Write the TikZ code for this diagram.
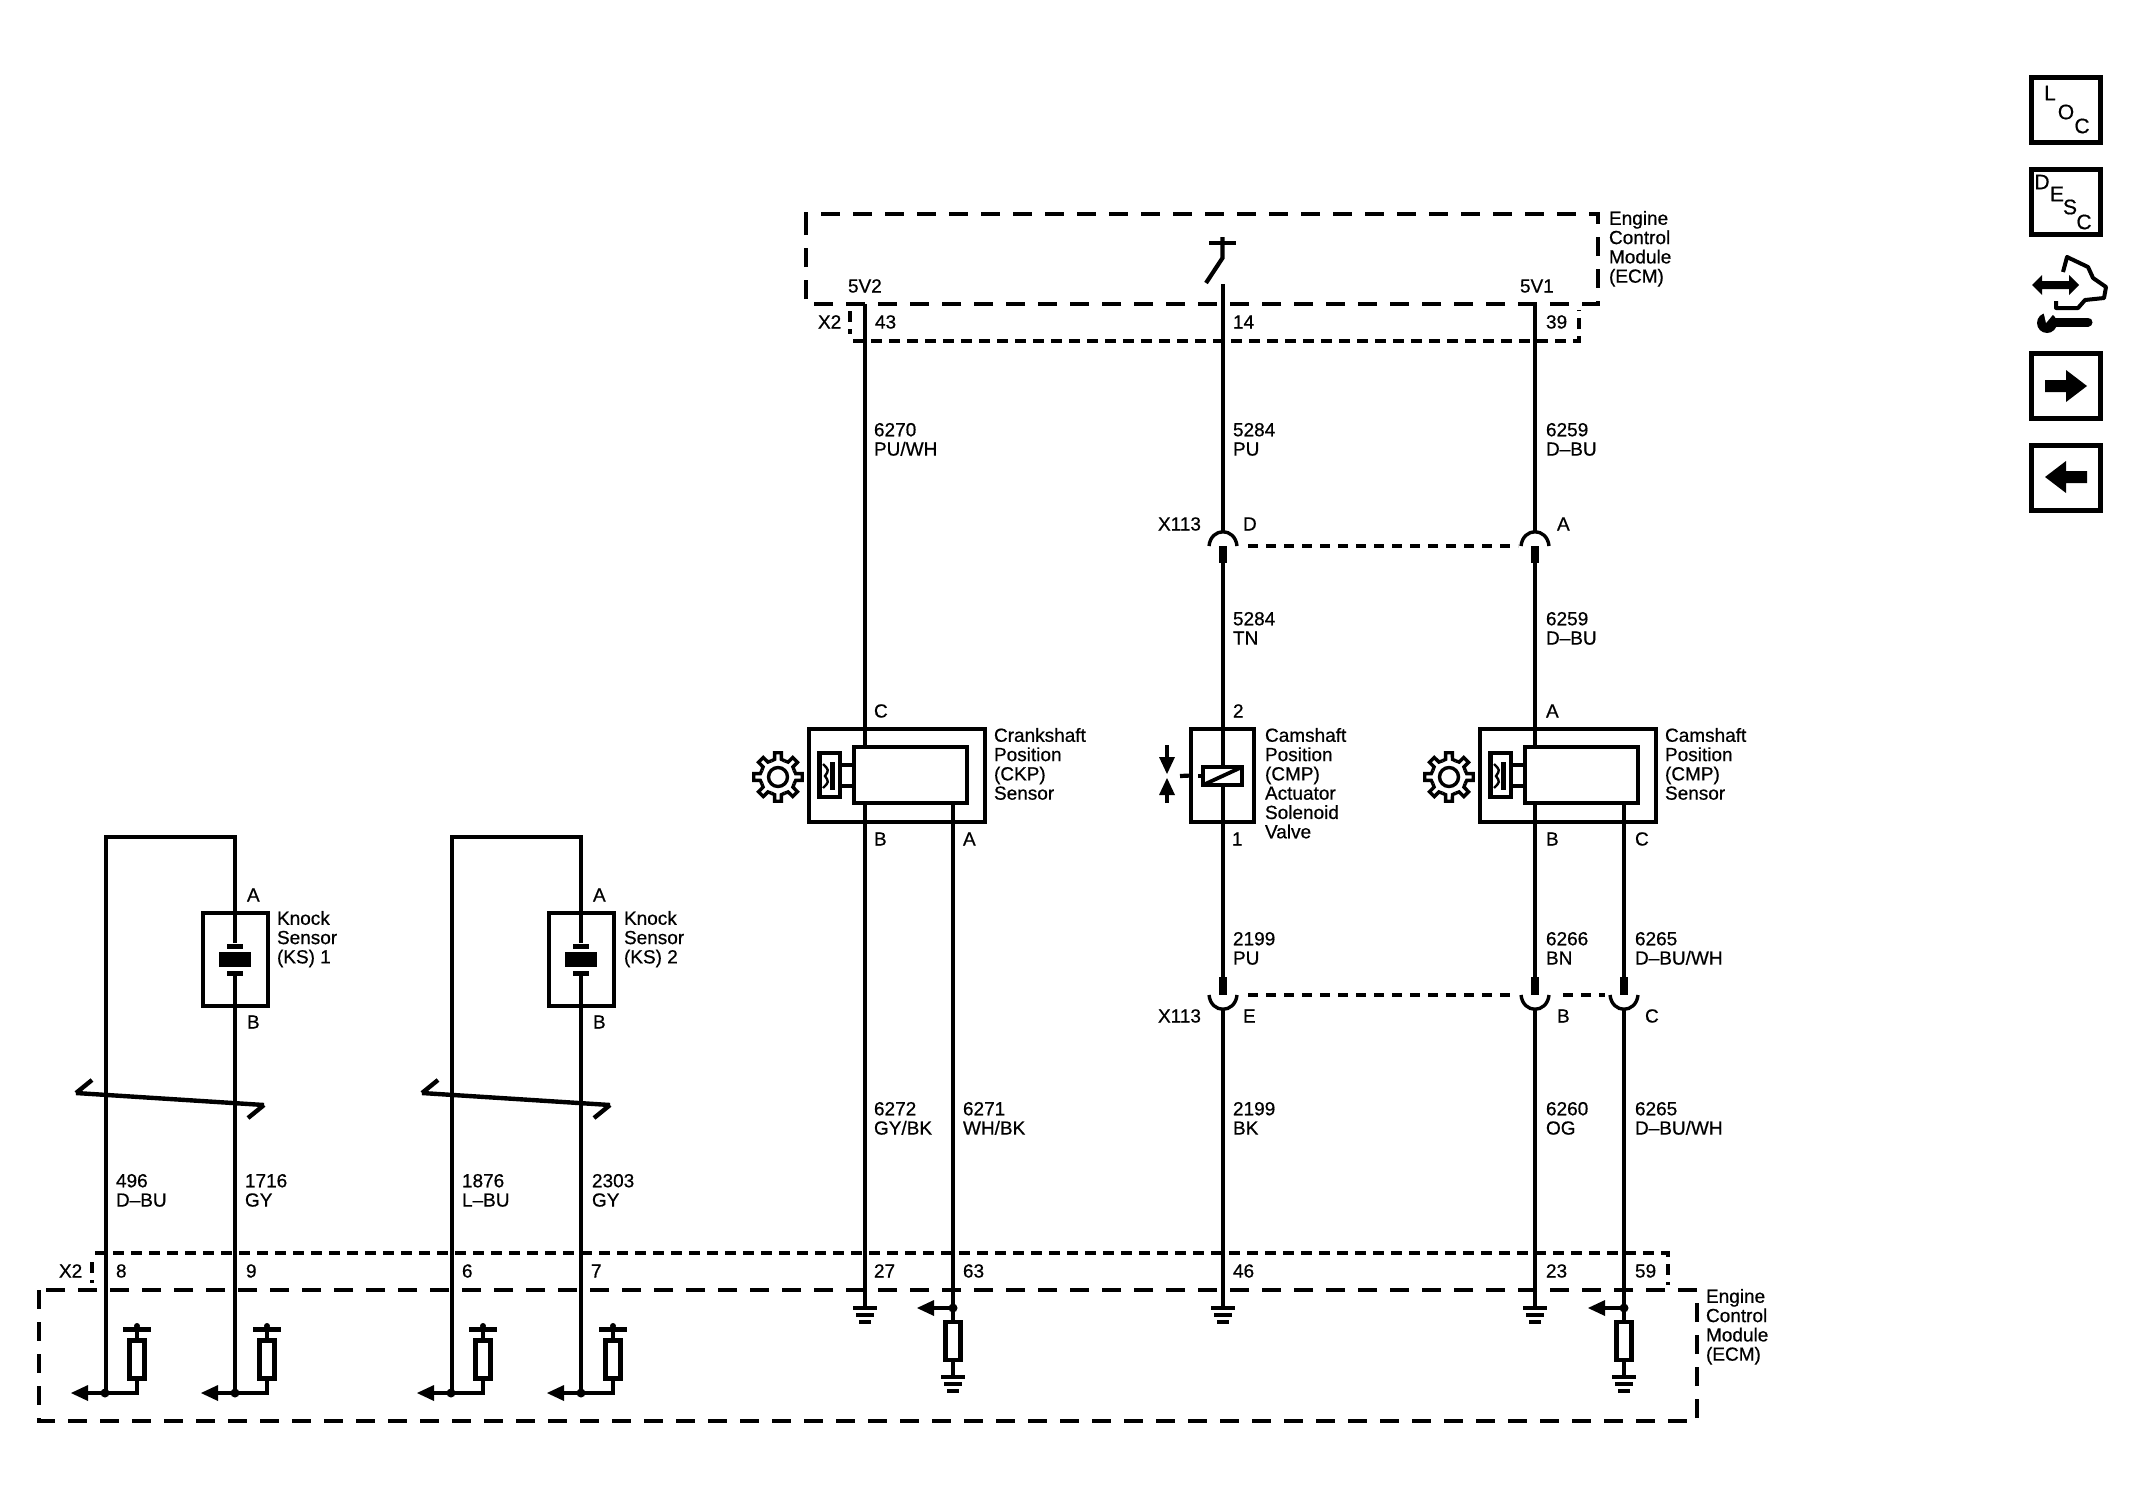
\documentclass[tikz,border=0pt]{standalone}
\usepackage{fontspec}
\setmainfont{Liberation Sans}[RawFeature={embolden=0.6}]
\newcommand{\lbl}[4]{\node[txt] (#1) at (#2,#3-8) {#4};}
\newcommand{\gndsym}[2]{%
  \fill (#1-12,#2-2) rectangle (#1+12,#2+2);
  \fill (#1-9,#2+5) rectangle (#1+9,#2+9);
  \fill (#1-6,#2+12) rectangle (#1+6,#2+16);}
\newcommand{\lefttip}[2]{%
  \fill (#1-36,#2) -- (#1-19,#2-8) -- (#1-19,#2+8) -- cycle;
  \draw[thinwire] (#1-20,#2) -- (#1,#2);
  \fill (#1,#2) circle (4.5);}
\newcommand{\rsym}[3]{\node[res] (#1) at (#2,#3) {};}
\newcommand{\gearsym}[2]{%
  \begin{scope}[shift={(#1,#2)}]
    \foreach \a in {0,45,...,315}{
      \draw[gearline] (\a-22.5:17.5) -- (\a-11:18) -- (\a-8:24.5) -- (\a+8:24.5) -- (\a+11:18) -- (\a+22.5:17.5);
    }
    \draw[gearline] (0,0) circle (9.5);
  \end{scope}}
\newcommand{\cmpsensor}[1]{%
  \begin{scope}[xshift=#1]
    \gearsym{778}{777}
    \fill (830,762) rectangle (835,790);
    \draw[line width=1.2pt] (823,764) .. controls (829,770) .. (825,776) .. controls (829,782) .. (823,788);
    \draw[smallbox] (819.5,753) rectangle (840,797);
    \draw[smallbox] (840,765) -- (854,765) (840,786) -- (854,786);
  \end{scope}}
\newcommand{\icobox}[2]{\node[icon] (#1) at (2065.5,#2) {};}
\tikzset{
  x=0.5pt,y=-0.5pt,
  txt/.style={anchor=north west,inner sep=0pt,outer sep=0pt,align=left,font=\fontsize{9.5}{9.65}\selectfont,
    execute at begin node=\strut,execute at end node=\strut},
  wire/.style={line width=2.1pt},
  thinwire/.style={line width=1.9pt},
  stub/.style={line width=4pt},
  cup/.style={line width=1.7pt},
  box/.style={draw,line width=2.3pt,inner sep=0pt,outer sep=0pt},
  smallbox/.style={line width=2.2pt},
  gearline/.style={line width=1.7pt,line join=miter},
  res/.style={draw,line width=2.1pt,fill=white,inner sep=0pt,minimum width=7.5pt,minimum height=19pt},
  ecmdash/.style={line width=2.1pt,dash pattern=on 9.5pt off 6.5pt},
  xdash/.style={line width=2pt,dash pattern=on 5.5pt off 3.5pt},
  icon/.style={draw,line width=2.5pt,fill=white,minimum width=34.5pt,minimum height=32.5pt,inner sep=0pt},
  ico/.style={inner sep=0pt,font=\fontsize{10.5}{10.5}\selectfont},
}
\begin{document}
\begin{tikzpicture}
\useasboundingbox[fill=white] (0,0) rectangle (2145,1499);

% ---------- pin coordinates
\coordinate (tk43) at (865,304);
\coordinate (tk14) at (1223,284);
\coordinate (tk39) at (1535,304);
\coordinate (xtD) at (1223,532);
\coordinate (xtDb) at (1223,563);
\coordinate (xtA) at (1535,532);
\coordinate (xtAb) at (1535,563);
\coordinate (xbE) at (1223,977);
\coordinate (xbEb) at (1223,1008);
\coordinate (xbB) at (1535,977);
\coordinate (xbBb) at (1535,1008);
\coordinate (xbC) at (1624,977);
\coordinate (xbCb) at (1624,1008);
\coordinate (g27) at (865,1308);
\coordinate (j63) at (953,1308);
\coordinate (g46) at (1223,1308);
\coordinate (g23) at (1535,1308);
\coordinate (j59) at (1624,1308);

% ---------- ECM outlines
\draw[ecmdash] (806,231) -- (806,214) -- (1598,214) -- (1598,304) -- (806,304) -- cycle;
\draw[xdash] (853,341) -- (1579,341) -- (1579,310);
\draw[xdash] (850,311) -- (850,334);
\draw[ecmdash] (39,1290) rectangle (1697,1421);
\draw[xdash] (95,1253) -- (1668,1253) -- (1668,1285);
\draw[xdash] (92,1262) -- (92,1283);
\draw[xdash,dash pattern=on 5pt off 4pt] (1248,546) -- (1518,546);
\draw[xdash,dash pattern=on 5pt off 4pt] (1248,995) -- (1512,995);
\draw[xdash,dash pattern=on 5pt off 4pt] (1563,995) -- (1605,995);

% ---------- sensors
\node[box,minimum width=88pt,minimum height=46.5pt] (ckp) at (897,775.5) {};
\node[box,minimum width=56.5pt,minimum height=28pt] (ckpi) at (910.5,775) {};
\node[box,minimum width=31.5pt,minimum height=46.5pt] (sol) at (1222.5,775.5) {};
\node[box,minimum width=88pt,minimum height=46.5pt] (cmp) at (1568,775.5) {};
\node[box,minimum width=56.5pt,minimum height=28pt] (cmpi) at (1581.5,775) {};
\node[box,line width=2.2pt,minimum width=19.5pt,minimum height=9pt] (coil) at (1222.5,776) {};
\node[box,minimum width=32.5pt,minimum height=46.5pt] (ks1) at (235.5,959.5) {};
\node[box,minimum width=32.5pt,minimum height=46.5pt] (ks2) at (581.5,959.5) {};
\cmpsensor{0pt}
\cmpsensor{335.5pt}

% ---------- wires
\draw[wire] (tk43) -- (865,747);
\draw[wire] (865,803) -- (g27);
\draw[wire] (953,803) -- (j63);
\draw[wire] (tk14) -- (xtD);
\draw[wire] (xtDb) -- (1223,767);
\draw[wire] (1223,785) -- (xbE);
\draw[wire] (xbEb) -- (g46);
\draw[wire] (tk39) -- (xtA);
\draw[wire] (xtAb) -- (1535,747);
\draw[wire] (1535,803) -- (xbB);
\draw[wire] (xbBb) -- (g23);
\draw[wire] (1624,803) -- (xbC);
\draw[wire] (xbCb) -- (j59);

% knock sensors
\foreach \xa/\xb in {105/235,451/581}{
  \draw[wire] (\xa+1,1393) -- (\xa+1,837) -- (\xb,837) -- (\xb,943);
  \draw[wire] (\xb,973) -- (\xb,1393);
  \fill (\xb-8,944) rectangle (\xb+8,949);
  \fill (\xb-16,952) rectangle (\xb+16,967);
  \fill (\xb-8,971) rectangle (\xb+8,976);
  \draw[line width=2.2pt] (\xa-29,1093) -- (\xa+159,1105);
  \draw[line width=2.2pt] (\xa-29,1093) -- (\xa-13,1080);
  \draw[line width=2.2pt] (\xa+159,1105) -- (\xa+143,1118);
}

% solenoid details
\draw[line width=1.9pt] (coil.south west) -- (coil.north east);
\draw[wire] (1180,776) -- (sol.west);
\draw[wire] (1198,776) -- (coil.west);
\fill (1167,774) -- (1159,757) -- (1175,757) -- cycle;
\draw[wire] (1167,745) -- (1167,760);
\fill (1167,778) -- (1159,795) -- (1175,795) -- cycle;
\draw[wire] (1167,803) -- (1167,790);

% switch
\draw[wire] (1209,243) -- (1236,243);
\draw[wire] (1222.5,237) -- (1222.5,258) -- (1206,283);

% connectors X113
\foreach \xx in {1223,1535}{
  \draw[cup] (\xx-14,546) .. controls (\xx-12,527) and (\xx+12,527) .. (\xx+14,546);
  \draw[stub] (\xx,546) -- (\xx,563);
}
\foreach \xx in {1223,1535,1624}{
  \draw[cup] (\xx-14,995) .. controls (\xx-12,1014) and (\xx+12,1014) .. (\xx+14,995);
  \draw[stub] (\xx,977) -- (\xx,995);
}

% ---------- ECM internal symbols
\gndsym{865}{1308}
\gndsym{1223}{1308}
\gndsym{1535}{1308}
\draw[wire] (j63) -- (953,1377);
\draw[wire] (j59) -- (1624,1377);
\rsym{r63}{953}{1341}
\rsym{r59}{1624}{1341}
\gndsym{953}{1377}
\gndsym{1624}{1377}
\lefttip{953}{1308}
\lefttip{1624}{1308}
\foreach \xx/\nm in {105/r8,235/r9,451/r6,581/r7}{
  \draw[thinwire] (\xx-18,1393) -- (\xx+32,1393) -- (\xx+32,1329);
  \fill (\xx-34,1393) -- (\xx-17,1385) -- (\xx-17,1401) -- cycle;
  \fill (\xx,1393) circle (4.5);
  \fill (\xx+18,1327) rectangle (\xx+46,1331.5);
  \fill (\xx+32,1326) circle (3);
  \node[res] (\nm) at (\xx+32,1359.5) {};
}

% ---------- text
\lbl{ecmT}{1609}{219}{Engine\\Control\\Module\\(ECM)}
\lbl{t5v2}{848}{287}{5V2}
\lbl{t5v1}{1520}{287}{5V1}
\lbl{tx2a}{818}{323}{X2}
\lbl{t43}{875}{323}{43}
\lbl{t14}{1233}{323}{14}
\lbl{t39}{1546}{323}{39}
\lbl{w6270}{874}{431}{6270\\PU/WH}
\lbl{w5284a}{1233}{431}{5284\\PU}
\lbl{w6259a}{1546}{431}{6259\\D–BU}
\lbl{x113a}{1158}{525}{X113}
\lbl{pD}{1243}{525}{D}
\lbl{pAx}{1557}{525}{A}
\lbl{w5284b}{1233}{620}{5284\\TN}
\lbl{w6259b}{1546}{620}{6259\\D–BU}
\lbl{pC}{874}{712}{C}
\lbl{p2}{1233}{712}{2}
\lbl{pAc}{1546}{712}{A}
\lbl{tckp}{994}{736}{Crankshaft\\Position\\(CKP)\\Sensor}
\lbl{tsol}{1265}{736}{Camshaft\\Position\\(CMP)\\Actuator\\Solenoid\\Valve}
\lbl{tcmp}{1665}{736}{Camshaft\\Position\\(CMP)\\Sensor}
\lbl{pB}{874}{840}{B}
\lbl{pA}{963}{840}{A}
\lbl{p1}{1232}{840}{1}
\lbl{pBc}{1546}{840}{B}
\lbl{pCc}{1635}{840}{C}
\lbl{w2199a}{1233}{940}{2199\\PU}
\lbl{w6266}{1546}{940}{6266\\BN}
\lbl{w6265a}{1635}{940}{6265\\D–BU/WH}
\lbl{x113b}{1158}{1017}{X113}
\lbl{pE}{1243}{1017}{E}
\lbl{pBx}{1557}{1017}{B}
\lbl{pCx}{1645}{1017}{C}
\lbl{w6272}{874}{1110}{6272\\GY/BK}
\lbl{w6271}{963}{1110}{6271\\WH/BK}
\lbl{w2199b}{1233}{1110}{2199\\BK}
\lbl{w6260}{1546}{1110}{6260\\OG}
\lbl{w6265b}{1635}{1110}{6265\\D–BU/WH}
\lbl{pKa1}{247}{896}{A}
\lbl{pKb1}{247}{1023}{B}
\lbl{tks1}{277}{919}{Knock\\Sensor\\(KS) 1}
\lbl{pKa2}{593}{896}{A}
\lbl{pKb2}{593}{1023}{B}
\lbl{tks2}{624}{919}{Knock\\Sensor\\(KS) 2}
\lbl{w496}{116}{1182}{496\\D–BU}
\lbl{w1716}{245}{1182}{1716\\GY}
\lbl{w1876}{462}{1182}{1876\\L–BU}
\lbl{w2303}{592}{1182}{2303\\GY}
\lbl{tx2b}{59}{1272}{X2}
\lbl{t8}{116}{1272}{8}
\lbl{t9}{246}{1272}{9}
\lbl{t6}{462}{1272}{6}
\lbl{t7}{591}{1272}{7}
\lbl{t27}{874}{1272}{27}
\lbl{t63}{963}{1272}{63}
\lbl{t46}{1233}{1272}{46}
\lbl{t23}{1546}{1272}{23}
\lbl{t59}{1635}{1272}{59}
\lbl{ecmB}{1706}{1297}{Engine\\Control\\Module\\(ECM)}

% ---------- navigation icons
\icobox{iloc}{109.5}
\node[ico] (il) at (2050,93) {L};
\node[ico] (io) at (2066,112) {O};
\node[ico] (ic) at (2082,126) {C};
\icobox{idesc}{201.5}
\node[ico] (id) at (2042,182) {D};
\node[ico] (ie) at (2057,194) {E};
\node[ico] (is) at (2070,207) {S};
\node[ico] (ic2) at (2084,222) {C};
\icobox{inext}{385.5}
\fill (2045,380) -- (2066,380) -- (2066,370) -- (2087,386) -- (2066,402) -- (2066,392) -- (2045,392) -- cycle;
\icobox{iback}{477.5}
\fill (2087,471) -- (2066,471) -- (2066,461) -- (2045,477) -- (2066,493) -- (2066,483) -- (2087,483) -- cycle;
% connector-view icon
\fill (2032,285) -- (2042,275) -- (2042,281) -- (2069,281) -- (2069,275) -- (2079,285) -- (2069,295) -- (2069,289) -- (2042,289) -- (2042,295) -- cycle;
\draw[line width=2pt,line join=round] (2063,272) -- (2067,257) -- (2088,267) -- (2093,278) -- (2106,287) -- (2104,298) -- (2085,300) -- (2078,308) -- (2056,308) -- (2056,301);
\draw[line width=4.5pt,line cap=round] (2050,322) -- (2088,322);
\fill (2047,323) circle (10);
\fill[white] (2046,323) -- (2043,310) -- (2056,311) -- cycle;
\end{tikzpicture}
\end{document}
